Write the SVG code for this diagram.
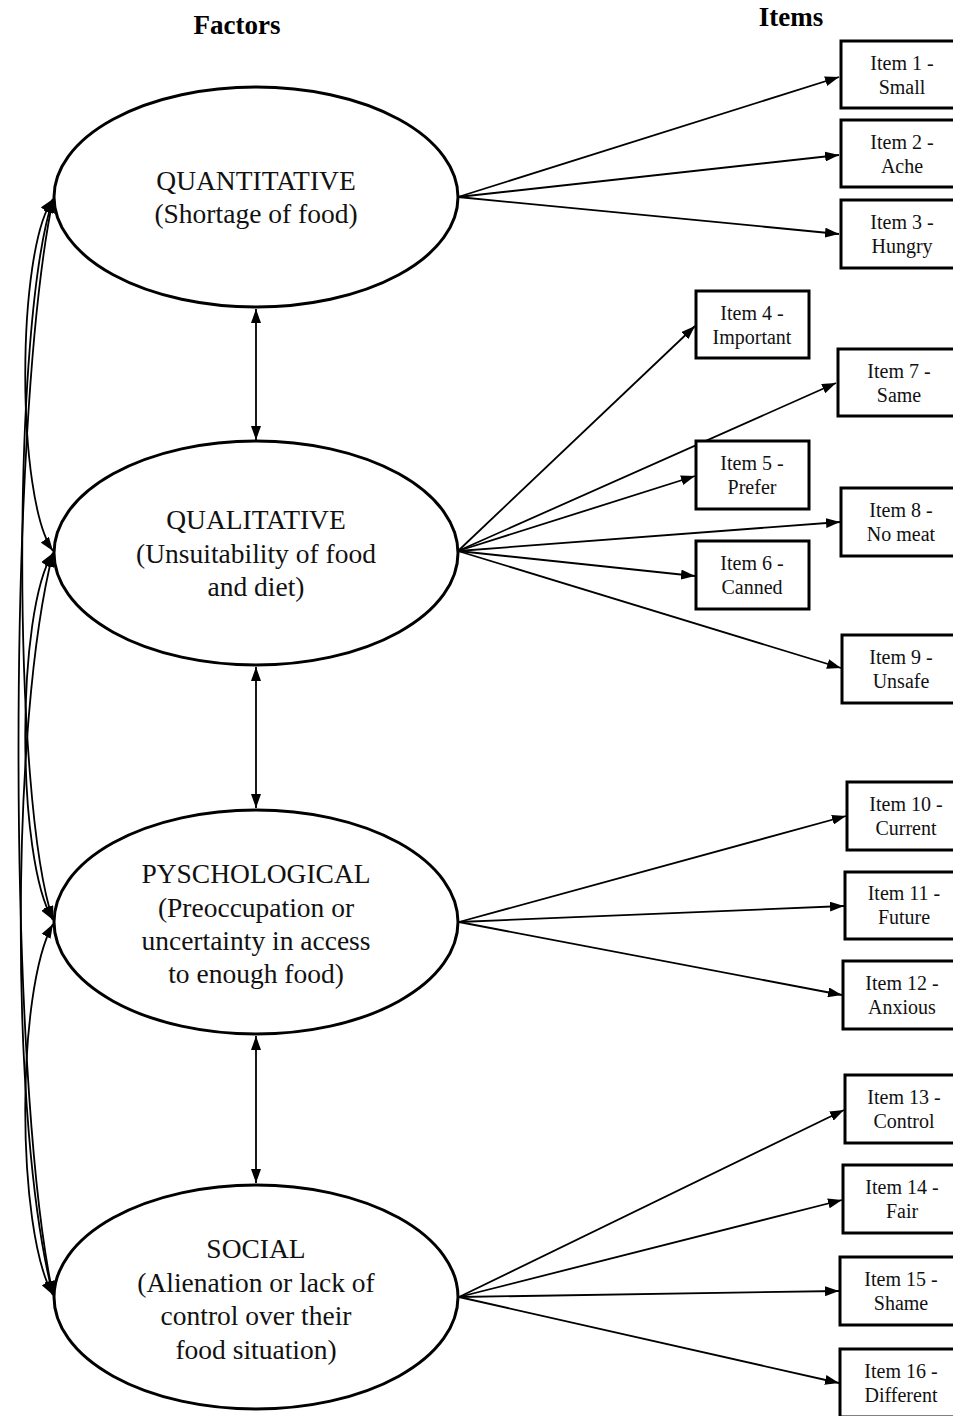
<svg xmlns="http://www.w3.org/2000/svg" width="953" height="1416" viewBox="0 0 953 1416">
<defs>
<marker id="arr" viewBox="0 0 14 10" refX="14" refY="5" markerWidth="14" markerHeight="10" markerUnits="userSpaceOnUse" orient="auto-start-reverse">
<path d="M0,0 L14,5 L0,10 z" fill="#000"/>
</marker>
</defs>
<style>
.title{font-family:"Liberation Serif","Times New Roman",serif;font-weight:bold;font-size:27px;fill:#000;text-anchor:middle}
.flab{font-family:"Liberation Serif","Times New Roman",serif;font-size:27.5px;fill:#111;text-anchor:middle}
.ilab{font-family:"Liberation Serif","Times New Roman",serif;font-size:20px;fill:#111;text-anchor:middle}
.ell{fill:#fff;stroke:#000;stroke-width:3}
.box{fill:#fff;stroke:#000;stroke-width:3}
.con{fill:none;stroke:#000;stroke-width:1.8;marker-end:url(#arr)}
.cov{fill:none;stroke:#000;stroke-width:1.8;marker-start:url(#arr);marker-end:url(#arr)}
</style>
<rect width="953" height="1416" fill="#fff"/>
<text class="title" x="237" y="34">Factors</text>
<text class="title" x="791" y="26">Items</text>

<g id="connectors">
<path class="cov" d="M53,199 C16,250 16,500 53,551"/>
<path class="cov" d="M53,199 C12,320 12,800 53,920"/>
<path class="cov" d="M53,199 C7,420 7,1080 53,1295"/>
<path class="cov" d="M53,553 C16,610 16,860 53,920"/>
<path class="cov" d="M53,553 C10,720 10,1130 53,1295"/>
<path class="cov" d="M53,924 C16,990 16,1230 53,1295"/>
<path class="cov" d="M256,309 L256,440"/>
<path class="cov" d="M256,667 L256,808"/>
<path class="cov" d="M256,1036 L256,1183"/>
<path class="con" d="M458,197 L839,77"/>
<path class="con" d="M458,197 L839,155"/>
<path class="con" d="M458,197 L839,234"/>
<path class="con" d="M458,551 L695,326"/>
<path class="con" d="M458,551 L836,383"/>
<path class="con" d="M458,551 L695,476"/>
<path class="con" d="M458,551 L840,522"/>
<path class="con" d="M458,551 L695,576"/>
<path class="con" d="M458,551 L841,668"/>
<path class="con" d="M459,922 L846,816"/>
<path class="con" d="M459,922 L844,906"/>
<path class="con" d="M459,922 L842,995"/>
<path class="con" d="M459,1297 L844,1110"/>
<path class="con" d="M459,1297 L842,1200"/>
<path class="con" d="M459,1297 L839,1291"/>
<path class="con" d="M459,1297 L839,1383"/>
</g>

<g id="f1">
<ellipse class="ell" cx="256" cy="197" rx="202" ry="110"/>
<text class="flab" x="256" y="190">QUANTITATIVE</text>
<text class="flab" x="256" y="223">(Shortage of food)</text>
</g>
<g id="f2">
<ellipse class="ell" cx="256" cy="553" rx="202" ry="112"/>
<text class="flab" x="256" y="529">QUALITATIVE</text>
<text class="flab" x="256" y="563">(Unsuitability of food</text>
<text class="flab" x="256" y="596">and diet)</text>
</g>
<g id="f3">
<ellipse class="ell" cx="256" cy="922" rx="202" ry="112"/>
<text class="flab" x="256" y="883">PYSCHOLOGICAL</text>
<text class="flab" x="256" y="917">(Preoccupation or</text>
<text class="flab" x="256" y="950">uncertainty in access</text>
<text class="flab" x="256" y="983">to enough food)</text>
</g>
<g id="f4">
<ellipse class="ell" cx="256" cy="1297" rx="202" ry="112"/>
<text class="flab" x="256" y="1258">SOCIAL</text>
<text class="flab" x="256" y="1292">(Alienation or lack of</text>
<text class="flab" x="256" y="1325">control over their</text>
<text class="flab" x="256" y="1359">food situation)</text>
</g>

<g id="i1"><rect class="box" x="841" y="41" width="124" height="67"/><text class="ilab" x="902" y="70">Item 1 -</text><text class="ilab" x="902" y="94">Small</text></g>
<g id="i2"><rect class="box" x="841" y="120" width="124" height="67"/><text class="ilab" x="902" y="149">Item 2 -</text><text class="ilab" x="902" y="173">Ache</text></g>
<g id="i3"><rect class="box" x="841" y="200" width="124" height="68"/><text class="ilab" x="902" y="229">Item 3 -</text><text class="ilab" x="902" y="253">Hungry</text></g>
<g id="i4"><rect class="box" x="696" y="291" width="113" height="67"/><text class="ilab" x="752" y="320">Item 4 -</text><text class="ilab" x="752" y="344">Important</text></g>
<g id="i7"><rect class="box" x="838" y="349" width="124" height="67"/><text class="ilab" x="899" y="378">Item 7 -</text><text class="ilab" x="899" y="402">Same</text></g>
<g id="i5"><rect class="box" x="696" y="441" width="113" height="68"/><text class="ilab" x="752" y="470">Item 5 -</text><text class="ilab" x="752" y="494">Prefer</text></g>
<g id="i8"><rect class="box" x="841" y="488" width="124" height="68"/><text class="ilab" x="901" y="517">Item 8 -</text><text class="ilab" x="901" y="541">No meat</text></g>
<g id="i6"><rect class="box" x="696" y="541" width="113" height="68"/><text class="ilab" x="752" y="570">Item 6 -</text><text class="ilab" x="752" y="594">Canned</text></g>
<g id="i9"><rect class="box" x="842" y="635" width="124" height="68"/><text class="ilab" x="901" y="664">Item 9 -</text><text class="ilab" x="901" y="688">Unsafe</text></g>
<g id="i10"><rect class="box" x="847" y="782" width="124" height="68"/><text class="ilab" x="906" y="811">Item 10 -</text><text class="ilab" x="906" y="835">Current</text></g>
<g id="i11"><rect class="box" x="845" y="872" width="124" height="67"/><text class="ilab" x="904" y="900">Item 11 -</text><text class="ilab" x="904" y="924">Future</text></g>
<g id="i12"><rect class="box" x="843" y="961" width="124" height="68"/><text class="ilab" x="902" y="990">Item 12 -</text><text class="ilab" x="902" y="1014">Anxious</text></g>
<g id="i13"><rect class="box" x="845" y="1075" width="124" height="68"/><text class="ilab" x="904" y="1104">Item 13 -</text><text class="ilab" x="904" y="1128">Control</text></g>
<g id="i14"><rect class="box" x="843" y="1165" width="124" height="68"/><text class="ilab" x="902" y="1194">Item 14 -</text><text class="ilab" x="902" y="1218">Fair</text></g>
<g id="i15"><rect class="box" x="840" y="1257" width="124" height="68"/><text class="ilab" x="901" y="1286">Item 15 -</text><text class="ilab" x="901" y="1310">Shame</text></g>
<g id="i16"><rect class="box" x="840" y="1349" width="124" height="68"/><text class="ilab" x="901" y="1378">Item 16 -</text><text class="ilab" x="901" y="1402">Different</text></g>
</svg>
